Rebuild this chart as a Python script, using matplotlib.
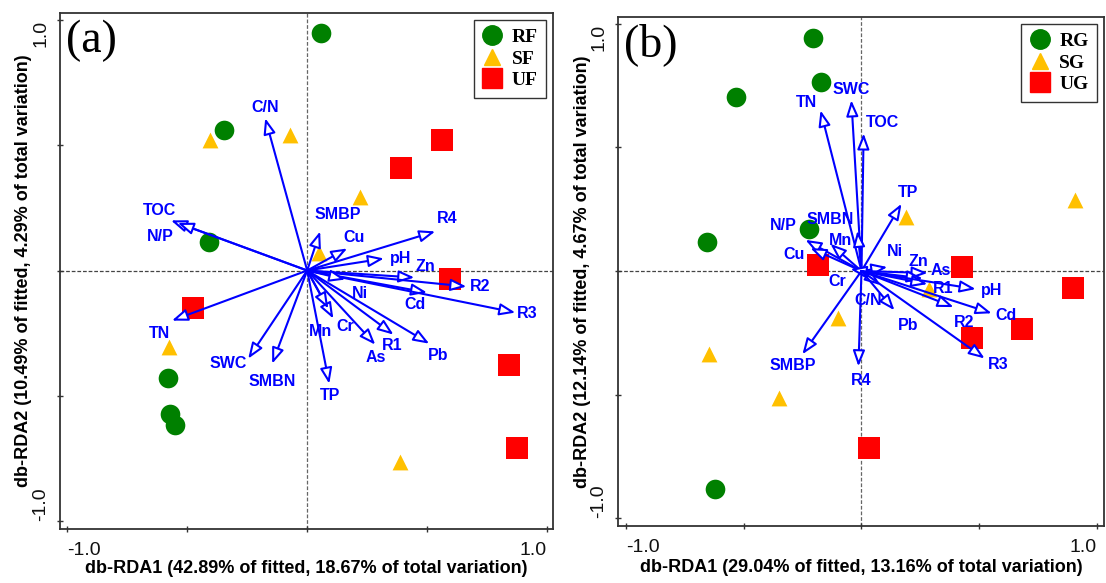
import matplotlib
matplotlib.use("Agg")
import matplotlib.pyplot as plt
from matplotlib.lines import Line2D
from matplotlib.patches import FancyArrowPatch, ArrowStyle

# ---------------- data: panel (a) ----------------
a_rf_x = [0.058, -0.347, -0.409, -0.580, -0.572, -0.551]
a_rf_y = [0.948, 0.560, 0.112, -0.428, -0.572, -0.616]
a_sf_x = [-0.405, -0.071, 0.221, 0.050, -0.576, 0.388]
a_sf_y = [0.520, 0.540, 0.292, 0.068, -0.304, -0.764]
a_uf_x = [0.564, 0.392, 0.597, -0.476, 0.843, 0.873]
a_uf_y = [0.520, 0.408, -0.032, -0.148, -0.376, -0.708]

a_var = ["C/N", "TOC", "N/P", "SMBP", "Cu", "R4", "pH", "Zn", "R2", "Cd", "R3",
         "Ni", "Pb", "R1", "As", "Cr", "Mn", "TP", "SMBN", "SWC", "TN"]
a_var_x = [-0.175, -0.568, -0.540, 0.054, 0.167, 0.534, 0.320, 0.447, 0.664, 0.500, 0.868,
           0.159, 0.509, 0.360, 0.284, 0.109, 0.088, 0.092, -0.146, -0.246, -0.564]
a_var_y = [0.608, 0.200, 0.190, 0.156, 0.088, 0.156, 0.048, -0.028, -0.064, -0.088, -0.168,
           -0.036, -0.292, -0.256, -0.296, -0.192, -0.152, -0.452, -0.372, -0.352, -0.200]
a_lab_x = [-0.175, -0.614, -0.614, 0.129, 0.196, 0.585, 0.388, 0.493, 0.722, 0.451, 0.919,
           0.221, 0.547, 0.355, 0.284, 0.160, 0.054, 0.096, -0.146, -0.330, -0.614]
a_lab_y = [0.652, 0.240, 0.136, 0.224, 0.132, 0.208, 0.048, 0.016, -0.064, -0.136, -0.172,
           -0.092, -0.340, -0.300, -0.346, -0.224, -0.244, -0.500, -0.444, -0.372, -0.252]

# ---------------- data: panel (b) ----------------
b_rg_x = [-0.204, -0.170, -0.532, -0.655, -0.221, -0.621]
b_rg_y = [0.943, 0.764, 0.703, 0.118, 0.171, -0.882]
b_sg_x = [0.191, 0.906, 0.285, -0.098, -0.647, -0.349]
b_sg_y = [0.220, 0.289, -0.073, -0.191, -0.337, -0.516]
b_ug_x = [-0.183, 0.426, 0.898, 0.681, 0.468, 0.030]
b_ug_y = [0.024, 0.016, -0.069, -0.236, -0.272, -0.715]

b_var = ["TN", "SWC", "TOC", "TP", "SMBN", "N/P", "Mn", "Cu", "Ni", "Zn", "As", "Cr",
         "C/N", "R1", "pH", "Cd", "R2", "R3", "Pb", "SMBP", "R4"]
b_var_x = [-0.174, -0.043, 0.009, 0.170, -0.017, -0.238, -0.132, -0.217, 0.110, 0.281, 0.260,
           -0.047, 0.081, 0.280, 0.485, 0.553, 0.391, 0.523, 0.140, -0.251, -0.013]
b_var_y = [0.650, 0.691, 0.557, 0.272, 0.163, 0.126, 0.110, 0.093, 0.016, -0.008, -0.030,
           0.008, -0.057, -0.053, -0.073, -0.171, -0.146, -0.354, -0.159, -0.337, -0.386]
b_lab_x = [-0.234, -0.043, 0.089, 0.196, -0.132, -0.332, -0.089, -0.285, 0.140, 0.243, 0.336,
           -0.102, 0.030, 0.349, 0.553, 0.613, 0.438, 0.579, 0.196, -0.294, 0.000]
b_lab_y = [0.683, 0.736, 0.602, 0.317, 0.207, 0.183, 0.122, 0.065, 0.077, 0.037, 0.004,
           -0.041, -0.118, -0.069, -0.077, -0.179, -0.207, -0.378, -0.220, -0.382, -0.443]

a_groups = ["RF", "SF", "UF"]
b_groups = ["RG", "SG", "UG"]
tick_vals = [-1, -0.5, 0, 0.5, 1]
tick_text = ["-1.0", "", "", "", "1.0"]
a_xlabel = "db-RDA1 (42.89% of fitted, 18.67% of total variation)"
a_ylabel = "db-RDA2 (10.49% of fitted, 4.29% of total variation)"
b_xlabel = "db-RDA1 (29.04% of fitted, 13.16% of total variation)"
b_ylabel = "db-RDA2 (12.14% of fitted, 4.67% of total variation)"

GREEN = "#008000"
ORANGE = "#FFC000"
RED = "#FF0000"
BLUE = "#0000FF"

fig = plt.figure(figsize=(11.06, 5.83), dpi=100)
ax_a = fig.add_axes([0.0542, 0.0926, 0.4458, 0.8851])
ax_b = fig.add_axes([0.5588, 0.0978, 0.4394, 0.8730])

sans = "Liberation Sans"
serif = "Liberation Serif"


def draw_panel(ax, xlim, ylim, pts, var, vx, vy, lx, ly, groups, xlabel, ylabel, letter,
               xlab_off, ylab_off):
    ax.set_xlim(*xlim)
    ax.set_ylim(*ylim)
    ax.axvline(0, color="#666666", lw=0.9, ls=(0, (3, 1.5)), zorder=1)
    ax.axhline(0, color="#444444", lw=0.9, ls=(0, (3, 1.5)), zorder=1)
    style = ArrowStyle("-|>", head_length=0.95, head_width=0.36)
    for name, x, y in zip(var, vx, vy):
        arr = FancyArrowPatch((0, 0), (x, y), arrowstyle=style, mutation_scale=10,
                              shrinkA=0, shrinkB=0, lw=1.5, ec=BLUE, fc="white",
                              zorder=3)
        ax.add_patch(arr)
    for name, x, y in zip(var, lx, ly):
        ax.text(x, y, name, color=BLUE, fontsize=11.5, fontweight="bold",
                family=sans, ha="center", va="center", zorder=4)
    (cx, cy), (tx, ty), (sx, sy) = pts
    ax.scatter(cx, cy, s=200, marker="o", color=GREEN, zorder=2, linewidths=0)
    ax.scatter(tx, ty, s=130, marker="^", color=ORANGE, zorder=2, linewidths=0)
    ax.scatter(sx, sy, s=230, marker="s", color=RED, zorder=2, linewidths=0)

    # ticks (marks only); labels drawn as text anchored inward like the original
    ax.tick_params(axis="both", direction="inout", length=5, width=1, color="#333333",
                   labelbottom=False, labelleft=False)
    ax.set_xticks(tick_vals)
    ax.set_yticks(tick_vals)
    xt = ax.get_xaxis_transform()
    yt = ax.get_yaxis_transform()
    for v, s in zip(tick_vals, tick_text):
        if not s:
            continue
        ax.text(v, -0.025, s, transform=xt, fontsize=14, family=sans, color="#111111",
                ha="left" if v < 0 else "right", va="top", clip_on=False)
        ax.text(-0.022, v, s, transform=yt, fontsize=14, family=sans, color="#111111",
                rotation=90, ha="right", va="bottom" if v < 0 else "top", clip_on=False)
    for sp in ax.spines.values():
        sp.set_linewidth(1.3)
        sp.set_color("#333333")
    ax.text(0.5, -xlab_off, xlabel, transform=ax.transAxes, fontsize=13, fontweight="bold",
            family=sans, ha="center", va="center")
    ax.text(-ylab_off, 0.5, ylabel, transform=ax.transAxes, fontsize=13, fontweight="bold",
            family=sans, ha="center", va="center", rotation=90)
    ax.text(0.012, 0.988, letter, transform=ax.transAxes, fontsize=33,
            family=serif, ha="left", va="top")

    handles = [
        Line2D([], [], marker="o", ls="", color=GREEN, markersize=14),
        Line2D([], [], marker="^", ls="", color=ORANGE, markersize=12),
        Line2D([], [], marker="s", ls="", color=RED, markersize=14),
    ]
    leg = ax.legend(handles, groups, loc="upper right", frameon=True, fancybox=False,
                    edgecolor="black", prop={"family": serif, "weight": "bold", "size": 14},
                    handlelength=1.0, handletextpad=0.5, labelspacing=0.2,
                    borderpad=0.45, borderaxespad=0.35)
    leg.get_frame().set_linewidth(1.0)


draw_panel(ax_a, (-1.031, 1.025), (-1.032, 1.028),
           ((a_rf_x, a_rf_y), (a_sf_x, a_sf_y), (a_uf_x, a_uf_y)),
           a_var, a_var_x, a_var_y, a_lab_x, a_lab_y, a_groups, a_xlabel, a_ylabel, "(a)",
           0.077, 0.073)
draw_panel(ax_b, (-1.034, 1.030), (-1.032, 1.028),
           ((b_rg_x, b_rg_y), (b_sg_x, b_sg_y), (b_ug_x, b_ug_y)),
           b_var, b_var_x, b_var_y, b_lab_x, b_lab_y, b_groups, b_xlabel, b_ylabel, "(b)",
           0.081, 0.074)

fig.savefig("out.png", dpi=100)
